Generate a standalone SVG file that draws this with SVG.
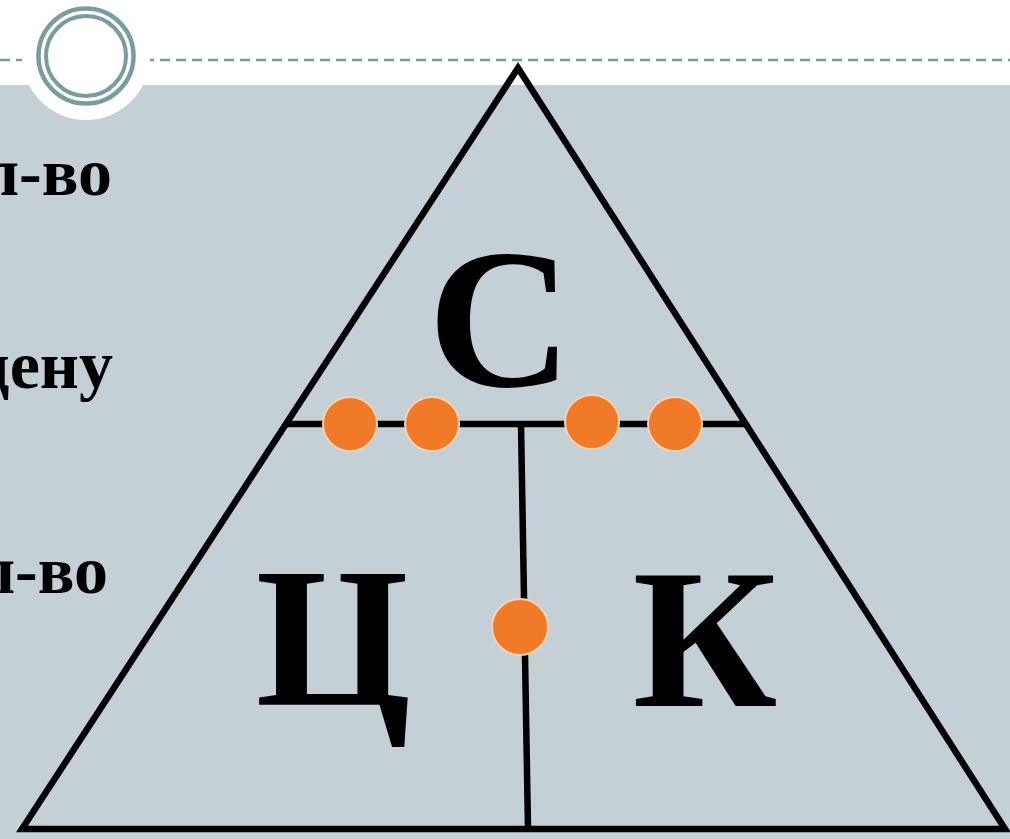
<svg xmlns="http://www.w3.org/2000/svg" width="1010" height="839" viewBox="0 0 1010 839">
<style>
.side{font-family:"Liberation Serif","Times New Roman",serif;font-weight:bold;font-size:68px;fill:#000}
.big{font-family:"Liberation Serif","Times New Roman",serif;font-weight:bold;font-size:200px;fill:#000}
.edge{stroke:#000;stroke-width:6.5;fill:none;stroke-linejoin:miter}
.dot{fill:#F07A28;stroke:#F6D3B4;stroke-width:2}
</style>
<rect x="0" y="0" width="1010" height="839" fill="#fff"/>
<rect x="0" y="85" width="1010" height="754" fill="#C5D0D6"/>
<g id="header">
<line x1="0" y1="60" x2="1010" y2="60" stroke="#7A9C9C" stroke-width="2.5" stroke-dasharray="10,6"/>
<circle cx="86" cy="56" r="64" fill="#fff"/>
<circle cx="86" cy="56" r="47.5" fill="none" stroke="#7A9C9C" stroke-width="4.5"/>
<circle cx="86" cy="56" r="40" fill="none" stroke="#7A9C9C" stroke-width="4"/>
</g>
<g id="side-text">
<text class="side" x="112" y="195" text-anchor="end">кол-во</text>
<text class="side" x="113" y="388" text-anchor="end" font-size="72">цену</text>
<text class="side" x="108" y="593" text-anchor="end">кол-во</text>
</g>
<g id="connectors">
<polygon class="edge" points="518,68 22,829 1005,829"/>
<line class="edge" x1="287" y1="424" x2="745" y2="424"/>
<line class="edge" x1="521" y1="424" x2="528" y2="829"/>
</g>
<g id="node-S"><text class="big" x="500" y="386" text-anchor="middle">С</text></g>
<g id="node-C"><text class="big" x="333" y="705" text-anchor="middle">Ц</text></g>
<g id="node-K"><text class="big" x="705" y="706" text-anchor="middle">К</text></g>
<g id="dots">
<circle class="dot" cx="350" cy="424" r="27"/>
<circle class="dot" cx="432" cy="424" r="27"/>
<circle class="dot" cx="592" cy="422" r="27"/>
<circle class="dot" cx="675" cy="424" r="27"/>
<circle class="dot" cx="520" cy="627" r="28"/>
</g>
</svg>
